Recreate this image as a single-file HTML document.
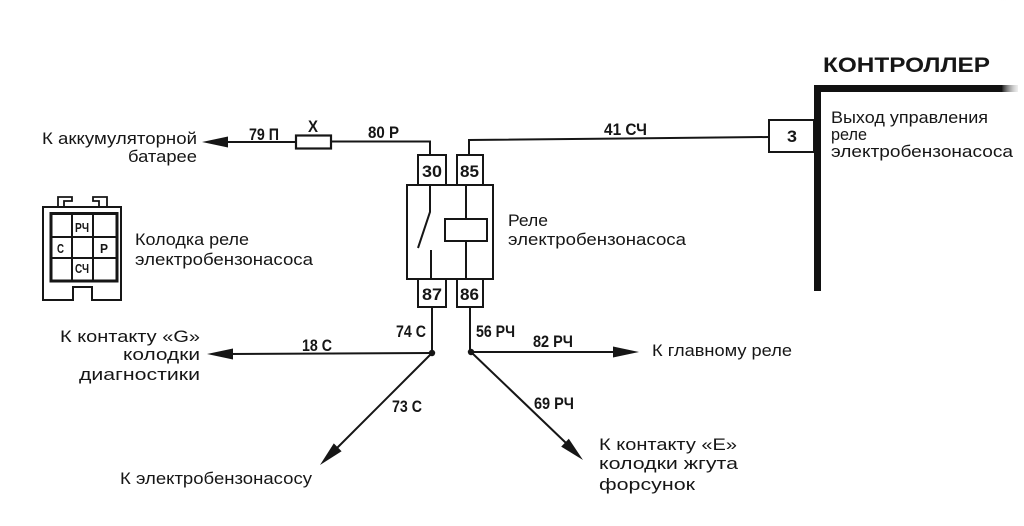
<!DOCTYPE html>
<html><head><meta charset="utf-8"><style>
html,body{margin:0;padding:0;background:#fff;}
svg{display:block;}
text{font-family:"Liberation Sans",sans-serif;fill:#161616;}
.w{font-weight:bold;font-size:16.5px;}
.t{font-size:16.5px;}
</style></head><body>
<svg width="1024" height="526" viewBox="0 0 1024 526" xmlns="http://www.w3.org/2000/svg">
<defs>
<linearGradient id="fade" x1="0" x2="1" y1="0" y2="0">
<stop offset="0" stop-color="#222"/><stop offset="1" stop-color="#ccc" stop-opacity="0.3"/>
</linearGradient>
<radialGradient id="smudge" cx="0.5" cy="0" r="0.6">
<stop offset="0" stop-color="#bbb"/><stop offset="1" stop-color="#fff" stop-opacity="0"/>
</radialGradient>
</defs>
<rect width="1024" height="526" fill="#fff"/>
<ellipse cx="1005" cy="0" rx="22" ry="4" fill="url(#smudge)"/>

<g stroke="#161616" stroke-width="2" fill="none">
<line x1="224" y1="142" x2="296" y2="142"/>
<rect x="296" y="135.5" width="35" height="13" stroke-width="2.2"/>
<polyline points="331,141.5 430,141.5 430,155"/>
<polyline points="469,155 469,140 769,137"/>
<rect x="418" y="155" width="28" height="30"/>
<rect x="457" y="155" width="26" height="30"/>
<rect x="407" y="185" width="86" height="94"/>
<rect x="418" y="279" width="28" height="28"/>
<rect x="457" y="279" width="26" height="28"/>
<polyline points="430,185 430,212 418,248"/>
<line x1="431" y1="250" x2="431" y2="279"/>
<line x1="466" y1="185" x2="466" y2="219"/>
<rect x="445" y="219" width="42" height="22"/>
<line x1="466" y1="241" x2="466" y2="279"/>
<line x1="432" y1="307" x2="432" y2="353"/>
<line x1="470" y1="307" x2="470" y2="352"/>
<line x1="432" y1="353" x2="228" y2="354"/>
<line x1="432" y1="353" x2="336" y2="449"/>
<line x1="471" y1="352" x2="616" y2="352"/>
<line x1="471" y1="352" x2="566" y2="443"/>
<rect x="769" y="120" width="45" height="32"/>
</g>

<g fill="#161616">
<polygon points="202,142 228,136.5 228,147.5"/>
<polygon points="207,354 233,348.5 233,359.5"/>
<polygon points="320,465 341.6,451.2 333.8,443.4"/>
<polygon points="639,352 613,346.5 613,357.5"/>
<polygon points="583,460 561.2,446.6 568.8,438.7"/>
<circle cx="432" cy="353" r="3.2"/>
<circle cx="471" cy="352" r="3.2"/>
</g>

<path d="M817.5 291 V88.5 H1003" stroke="#111" stroke-width="7" fill="none"/>
<rect x="1002" y="85" width="16" height="7" fill="url(#fade)"/>

<g stroke="#161616" fill="none">
<path d="M43 207 H121 V300 H92 V287 H73 V300 H43 Z" stroke-width="2"/>
<rect x="51" y="213.5" width="66" height="67.5" stroke-width="3"/>
<line x1="72" y1="213" x2="72" y2="281" stroke-width="2"/>
<line x1="93" y1="213" x2="93" y2="281" stroke-width="2"/>
<line x1="51" y1="237" x2="117" y2="237" stroke-width="2"/>
<line x1="51" y1="258" x2="117" y2="258" stroke-width="2"/>
<polyline points="58,207 58,197 72,197 72,201 64,201 64,207" stroke-width="1.8"/>
<polyline points="99,207 99,201 93,201 93,197 107,197 107,207" stroke-width="1.8"/>
</g>
<g style="font-weight:bold;font-size:13px">
<text x="75" y="232" textLength="14" lengthAdjust="spacingAndGlyphs">РЧ</text>
<text x="57" y="253" textLength="7" lengthAdjust="spacingAndGlyphs">С</text>
<text x="100" y="253" textLength="8" lengthAdjust="spacingAndGlyphs">Р</text>
<text x="75" y="273" textLength="14" lengthAdjust="spacingAndGlyphs">СЧ</text>
</g>

<g class="w">
<text x="249" y="140" textLength="30" lengthAdjust="spacingAndGlyphs">79 П</text>
<text x="308" y="132" textLength="10" lengthAdjust="spacingAndGlyphs">X</text>
<text x="368" y="138" textLength="31" lengthAdjust="spacingAndGlyphs">80 Р</text>
<text x="604" y="135" textLength="43" lengthAdjust="spacingAndGlyphs">41 СЧ</text>
<text x="422" y="177" textLength="20" lengthAdjust="spacingAndGlyphs">30</text>
<text x="460" y="177" textLength="19" lengthAdjust="spacingAndGlyphs">85</text>
<text x="422" y="300" textLength="20" lengthAdjust="spacingAndGlyphs">87</text>
<text x="460" y="300" textLength="19" lengthAdjust="spacingAndGlyphs">86</text>
<text x="787" y="142" textLength="10" lengthAdjust="spacingAndGlyphs">3</text>
<text x="396" y="337" textLength="30" lengthAdjust="spacingAndGlyphs">74 С</text>
<text x="476" y="337" textLength="39" lengthAdjust="spacingAndGlyphs">56 РЧ</text>
<text x="533" y="347" textLength="40" lengthAdjust="spacingAndGlyphs">82 РЧ</text>
<text x="302" y="351" textLength="30" lengthAdjust="spacingAndGlyphs">18 С</text>
<text x="392" y="412" textLength="30" lengthAdjust="spacingAndGlyphs">73 С</text>
<text x="534" y="409" textLength="40" lengthAdjust="spacingAndGlyphs">69 РЧ</text>
</g>

<text x="823" y="72" style="font-weight:bold;font-size:21px" textLength="167" lengthAdjust="spacingAndGlyphs">КОНТРОЛЛЕР</text>

<g class="t">
<text x="42" y="144" textLength="155" lengthAdjust="spacingAndGlyphs">К аккумуляторной</text>
<text x="128" y="162" textLength="69" lengthAdjust="spacingAndGlyphs">батарее</text>
<text x="135" y="245" textLength="114" lengthAdjust="spacingAndGlyphs">Колодка реле</text>
<text x="135" y="265" textLength="178" lengthAdjust="spacingAndGlyphs">электробензонасоса</text>
<text x="508" y="226" textLength="40" lengthAdjust="spacingAndGlyphs">Реле</text>
<text x="508" y="245" textLength="178" lengthAdjust="spacingAndGlyphs">электробензонасоса</text>
<text x="831" y="123" textLength="157" lengthAdjust="spacingAndGlyphs">Выход управления</text>
<text x="831" y="140" textLength="36" lengthAdjust="spacingAndGlyphs">реле</text>
<text x="831" y="157" textLength="182" lengthAdjust="spacingAndGlyphs">электробензонасоса</text>
<text x="60" y="342" textLength="140" lengthAdjust="spacingAndGlyphs">К контакту «G»</text>
<text x="123" y="360" textLength="77" lengthAdjust="spacingAndGlyphs">колодки</text>
<text x="79" y="380" textLength="121" lengthAdjust="spacingAndGlyphs">диагностики</text>
<text x="120" y="484" textLength="192" lengthAdjust="spacingAndGlyphs">К электробензонасосу</text>
<text x="652" y="356" textLength="140" lengthAdjust="spacingAndGlyphs">К главному реле</text>
<text x="599" y="450" textLength="138" lengthAdjust="spacingAndGlyphs">К контакту «E»</text>
<text x="599" y="469" textLength="139" lengthAdjust="spacingAndGlyphs">колодки жгута</text>
<text x="599" y="490" textLength="96" lengthAdjust="spacingAndGlyphs">форсунок</text>
</g>
</svg>
</body></html>
